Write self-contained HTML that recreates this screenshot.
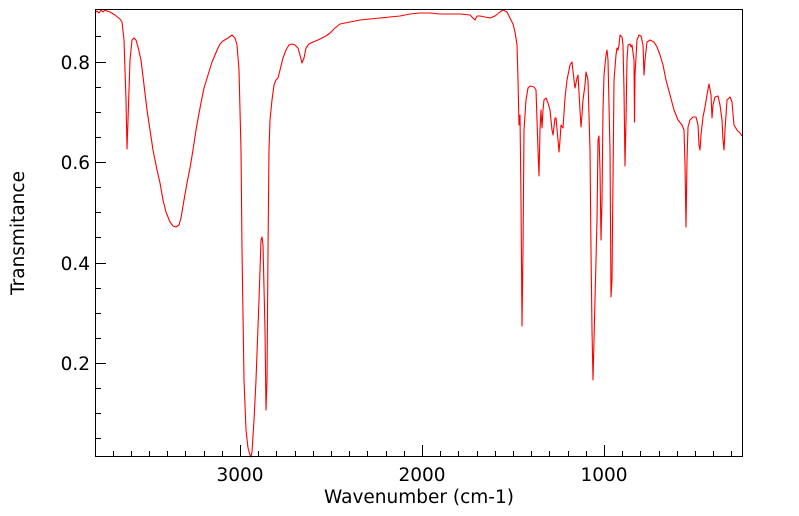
<!DOCTYPE html>
<html><head><meta charset="utf-8"><style>
body{margin:0;background:#fff;}
svg{display:block;font-family:"DejaVu Sans","Liberation Sans",sans-serif;}
</style></head><body>
<svg width="799" height="516" viewBox="0 0 799 516">
<rect width="799" height="516" fill="#fff"/>
<path fill="none" stroke="#ff0000" stroke-width="1.1" stroke-linejoin="round" d="M95,13 L97,11 99,13 101,10 103,12 105,10 107,11 110,12 115,15 120,19 122,22 124,40 126,100 127,149 128,120 130,60 132,40 134,38 136,40 138,47 141,60 144,85 147,110 150,130 153,150 157,170 160,183 163,200 166,212 170,222 173,226 176,227 179,225 181,218 184,200 187,183 190,168 193,150 196,130 200,108 204,88 208,75 212,62 215,55 218,48 220,44 223,41 228,38 232,35 235,38 237,45 239,70 241,150 242,250 244,380 246,430 248,448 250,455 251,457 252,452 254,420 256,380 259,300 261,240 262,237 263,245 265,330 266,410 267,380 268,250 269,150 270,120 272,100 274,85 276,80 278,78 280,70 283,58 286,50 289,45 292,44 295,45 298,48 300,55 302,63 304,58 306,48 309,44 313,42 318,40 322,38 326,36 330,33 335,28 340,24 350,22 360,20 370,19 380,18 390,17 400,16 410,14 420,13 430,13 440,14 460,14 470,15 475,20 477,16 480,16 490,18 495,16 500,12 503,10 507,12 510,18 513,24 515,32 517,45 518,80 519,125 520,115 521,200 522,326 523,250 524,130 526,100 528,88 530,86 534,87 536,90 537,120 538,150 539,176 540,130 541,110 542,128 543,110 544,100 546,98 548,103 550,110 552,130 553,135 555,118 556,118 558,140 559,152 560,140 561,125 563,128 565,98 567,80 570,65 572,62 574,80 575,88 577,78 578,75 580,110 581,127 582,115 583,100 585,85 586,72 588,80 590,150 591,250 592,330 593,380 595,300 597,220 598,140 599,136 600,170 601,240 602,200 603,110 604,75 606,55 607,50 608,60 610,150 611,297 612,280 613,180 614,80 616,55 617,48 618,50 619,45 620,35 622,37 623,45 624,90 625,166 626,120 627,60 628,45 630,44 631,47 632,45 634,60 634.5,122 635,75 637,40 639,35 641,36 643,45 644,75 645,60 647,42 650,40 654,42 657,47 660,55 663,65 666,80 670,95 674,110 678,120 682,125 684,130 685,165 686,227 687,160 688,127 690,120 693,117 696,117 698,125 699,145 700,150 701,135 703,117 705,107 707,95 709,84 711,95 712,118 713,105 715,97 718,96 720,105 722,120 723,140 724,150 725,130 727,100 730,97 732,102 734,125 737,130 740,133 742,136"/>
<rect x="95.5" y="9.5" width="647" height="447" fill="none" stroke="#000" stroke-width="1"/>
<g stroke="#000" stroke-width="1">
<path d="M240.5,457 v-12 M422.5,457 v-12 M604.5,457 v-12"/>
<path d="M113.5,457v-6 M131.5,457v-6 M149.5,457v-6 M167.5,457v-6 M185.5,457v-6 M204.5,457v-6 M222.5,457v-6 M258.5,457v-6 M276.5,457v-6 M295.5,457v-6 M313.5,457v-6 M331.5,457v-6 M349.5,457v-6 M367.5,457v-6 M386.5,457v-6 M404.5,457v-6 M440.5,457v-6 M458.5,457v-6 M477.5,457v-6 M495.5,457v-6 M513.5,457v-6 M531.5,457v-6 M549.5,457v-6 M568.5,457v-6 M586.5,457v-6 M622.5,457v-6 M640.5,457v-6 M659.5,457v-6 M677.5,457v-6 M695.5,457v-6 M713.5,457v-6 M731.5,457v-6"/>
<path d="M96,62.5h10 M96,162.5h10 M96,263.5h10 M96,363.5h10"/>
<path d="M96,36.5h5 M96,87.5h5 M96,112.5h5 M96,137.5h5 M96,187.5h5 M96,212.5h5 M96,237.5h5 M96,288.5h5 M96,313.5h5 M96,338.5h5 M96,388.5h5 M96,413.5h5 M96,438.5h5"/>
</g>
<g font-size="18.5" fill="#000">
<text x="90" y="69" text-anchor="end">0.8</text>
<text x="90" y="169" text-anchor="end">0.6</text>
<text x="90" y="270" text-anchor="end">0.4</text>
<text x="90" y="370" text-anchor="end">0.2</text>
<text x="240" y="481" text-anchor="middle">3000</text>
<text x="422" y="481" text-anchor="middle">2000</text>
<text x="604" y="481" text-anchor="middle">1000</text>
<text x="419" y="503" text-anchor="middle">Wavenumber (cm-1)</text>
<text transform="translate(24,233) rotate(-90)" text-anchor="middle">Transmitance</text>
</g>
</svg>
</body></html>
